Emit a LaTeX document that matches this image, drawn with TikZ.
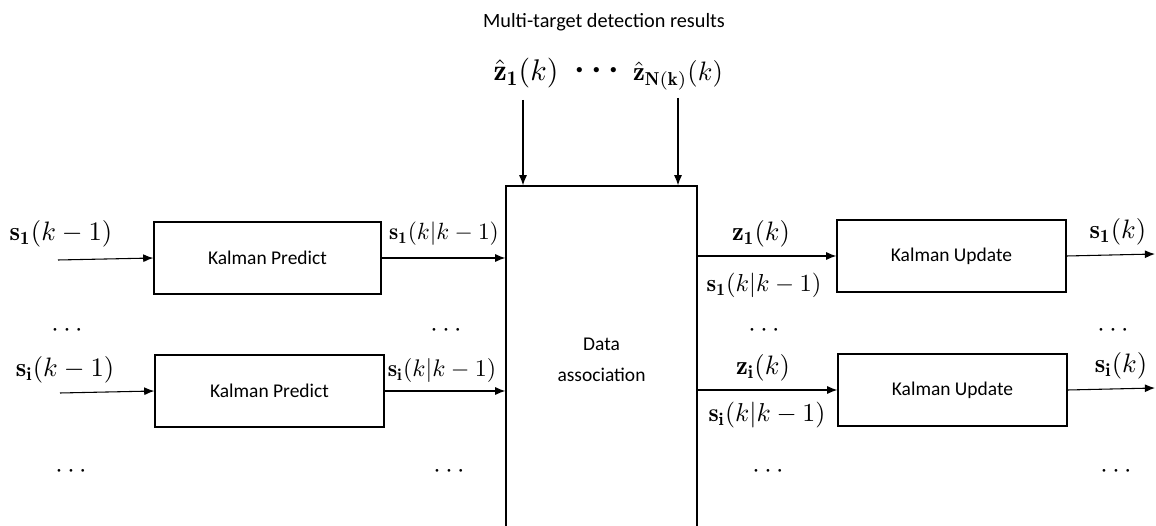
\documentclass[tikz,border=0pt]{standalone}
\usepackage{graphicx}
\usepackage{bm}
\usepackage{fontspec}
\newfontfamily\carlito{Carlito}
\usetikzlibrary{arrows.meta}
\tikzset{
  blk/.style={draw, line width=0.5pt, inner sep=0pt, align=center,
    font=\carlito\fontsize{7.3}{11.6}\selectfont},
  flow/.style={line width=0.4pt, -{Latex[length=3.8pt,width=3pt]}},
  lbl/.style={anchor=base, inner sep=0pt},
  ttl/.style={inner sep=0pt, font=\carlito\fontsize{7.6}{9}\selectfont}
}
\begin{document}
\begin{tikzpicture}[x=0.375pt,y=-0.375pt]
\useasboundingbox (0,0) rectangle (1156,526);
\clip (0,0) rectangle (1156,526);

% detections entering the association stage
\node[ttl] (title) at (604,22) {Multi-target detection results};
\node[lbl] (zh1) at (526,81) {\scalebox{1.12}{$\hat{\mathbf{z}}_{\mathbf{1}}(k)$}};
\node[lbl] (zdots) at (597,79) {\scalebox{1.25}{$\bm{\cdots}$}};
\node[lbl] (zhN) at (678,81) {$\hat{\mathbf{z}}_{\mathbf{N(k)}}(k)$};

% processing blocks
\node[blk, minimum width=191*0.375pt, minimum height=348*0.375pt] (da) at (601.5,360) {Data\\association};
\node[blk, minimum width=227*0.375pt, minimum height=72*0.375pt] (kp1) at (267.5,258) {Kalman Predict};
\node[blk, minimum width=229*0.375pt, minimum height=72*0.375pt] (kp2) at (269.5,391) {Kalman Predict};
\node[blk, minimum width=229*0.375pt, minimum height=72*0.375pt] (ku1) at (951.5,256) {Kalman Update};
\node[blk, minimum width=229*0.375pt, minimum height=72*0.375pt] (ku2) at (952.5,390) {Kalman Update};

% free ends of the connectors
\coordinate (in1) at (58,260);
\coordinate (in2) at (60,393);
\coordinate (out1) at (1155,254);
\coordinate (out2) at (1155,388);
\coordinate (zt1) at (523,100);
\coordinate (ztN) at (678,98);

% connectors
\draw[flow] (zt1) -- (zt1 |- da.north);
\draw[flow] (ztN) -- (ztN |- da.north);
\draw[flow] (in1) -- (kp1.west);
\draw[flow] (in2) -- (kp2.west);
\draw[flow] (kp1.east) -- (kp1.east -| da.west);
\draw[flow] (kp2.east) -- (kp2.east -| da.west);
\draw[flow] (ku1.west -| da.east) -- (ku1.west);
\draw[flow] (ku2.west -| da.east) -- (ku2.west);
\draw[flow] (ku1.east) -- (out1);
\draw[flow] (ku2.east) -- (out2);

% signal labels
\node[lbl] (l1) at (61,241) {$\mathbf{s}_{\mathbf{1}}(k-1)$};
\node[lbl] (l2) at (444,240) {\scalebox{0.88}{$\mathbf{s}_{\mathbf{1}}(k|k-1)$}};
\node[lbl] (l3) at (65,377) {$\mathbf{s}_{\mathbf{i}}(k-1)$};
\node[lbl] (l4) at (442,377) {\scalebox{0.9}{$\mathbf{s}_{\mathbf{i}}(k|k-1)$}};
\node[lbl] (l5) at (761,241) {$\mathbf{z}_{\mathbf{1}}(k)$};
\node[lbl] (l6) at (764,292) {\scalebox{0.92}{$\mathbf{s}_{\mathbf{1}}(k|k-1)$}};
\node[lbl] (l7) at (1118,239) {$\mathbf{s}_{\mathbf{1}}(k)$};
\node[lbl] (l8) at (763,375) {$\mathbf{z}_{\mathbf{i}}(k)$};
\node[lbl] (l9) at (767,422) {\scalebox{0.97}{$\mathbf{s}_{\mathbf{i}}(k|k-1)$}};
\node[lbl] (l10) at (1121,373) {$\mathbf{s}_{\mathbf{i}}(k)$};

% ellipses for the omitted targets
\node[lbl] (d1) at (67,337) {$\cdots$};
\node[lbl] (d2) at (446,337) {$\cdots$};
\node[lbl] (d3) at (764,337) {$\cdots$};
\node[lbl] (d4) at (1113,337) {$\cdots$};
\node[lbl] (d5) at (71,478) {$\cdots$};
\node[lbl] (d6) at (449,478) {$\cdots$};
\node[lbl] (d7) at (768,478) {$\cdots$};
\node[lbl] (d8) at (1116,478) {$\cdots$};
\end{tikzpicture}
\end{document}
